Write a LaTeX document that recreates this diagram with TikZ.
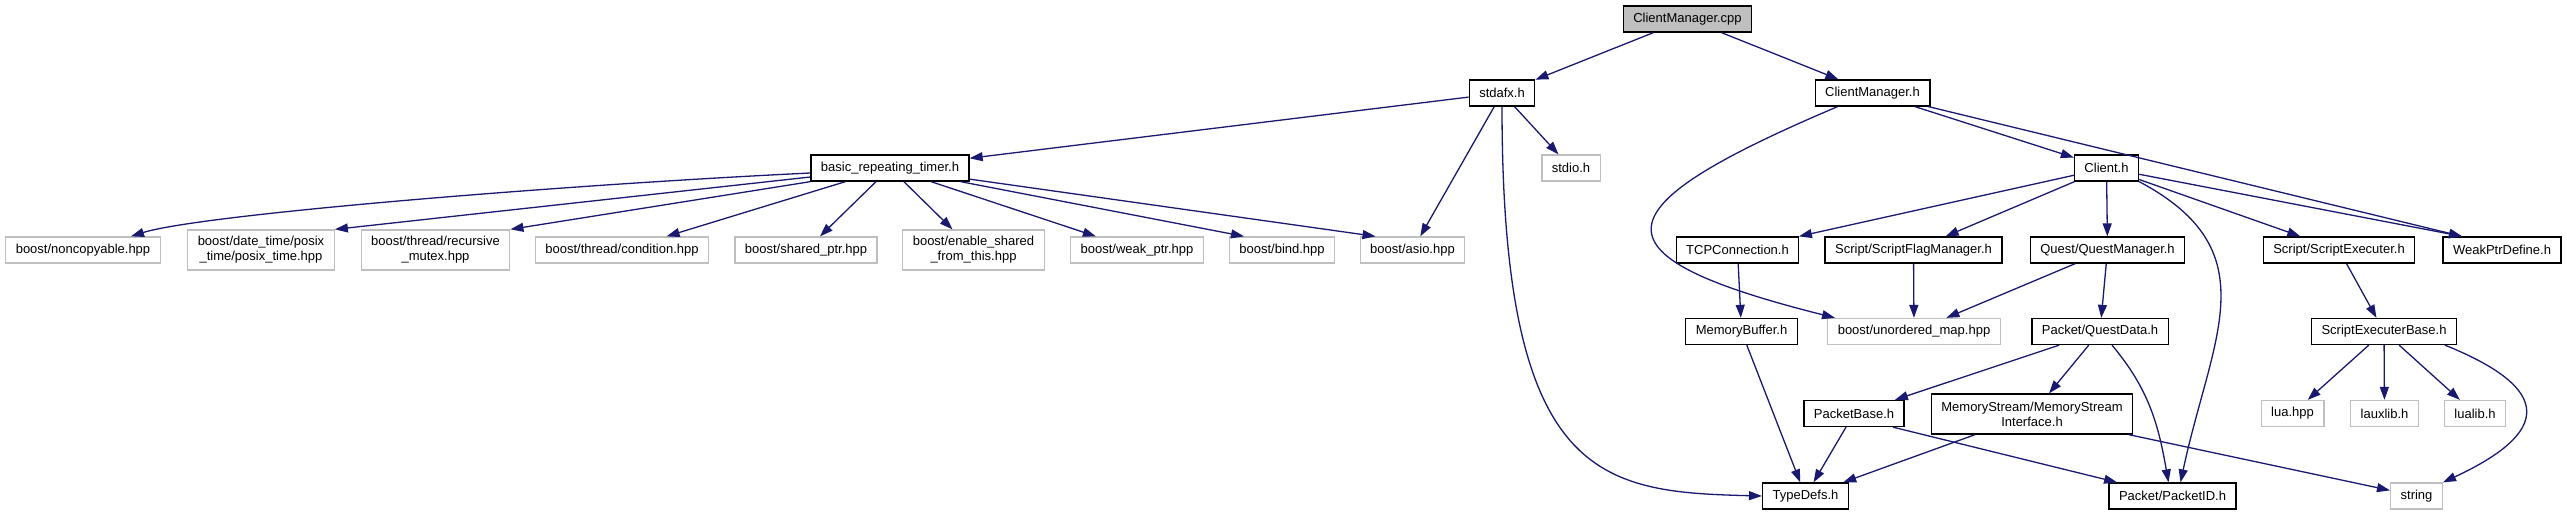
\documentclass[tikz,border=0pt]{standalone}
\usepackage{fontspec}
\setmainfont{Liberation Sans}
\usetikzlibrary{arrows.meta}
\definecolor{edgeblue}{HTML}{191970}
\definecolor{extgray}{HTML}{BFBFBF}
\tikzset{
  % header of the project: black frame
  filebox/.style={draw=black, fill=white, rectangle, line width=1.3pt, minimum height=26pt,
                  inner xsep=10pt, inner ysep=2pt, align=center, font=\fontsize{13}{15}\selectfont},
  filebox-two/.style={filebox, minimum height=40pt},
  % system / library header: light grey frame
  extbox/.style={filebox, draw=extgray},
  extbox-two/.style={extbox, minimum height=40pt},
  % the file the graph belongs to
  rootbox/.style={filebox, fill=extgray},
  % include arrows
  incl/.style={-{Triangle[length=13pt,width=9pt]}, draw=edgeblue, line width=1.3pt}
}

\begin{document}
\begin{tikzpicture}[x=1pt, y=-1pt]

\useasboundingbox (0,0) rectangle (2567,515);

% Rank 0 and 1
\node[rootbox] (cpp) at (1687.5,19) {ClientManager.cpp};
\node[filebox] (stdafx) at (1502,93) {stdafx.h};
\node[filebox] (cmh) at (1872.5,93) {ClientManager.h};

% Rank 2
\node[filebox] (brt) at (890,168) {basic\_repeating\_timer.h};
\node[extbox] (stdio) at (1571,168) {stdio.h};
\node[filebox] (client) at (2106.5,168) {Client.h};

% Rank 3: boost headers, then the project headers of Client.h
\node[extbox] (noncopy) at (83,250) {boost/noncopyable.hpp};
\node[extbox-two] (posix) at (261,250) {boost/date\_time/posix\\\_time/posix\_time.hpp};
\node[extbox-two] (rmutex) at (435.5,250) {boost/thread/recursive\\\_mutex.hpp};
\node[extbox] (cond) at (622,250) {boost/thread/condition.hpp};
\node[extbox] (sptr) at (806,250) {boost/shared\_ptr.hpp};
\node[extbox-two] (esft) at (973.5,250) {boost/enable\_shared\\\_from\_this.hpp};
\node[extbox] (wptr) at (1137,250) {boost/weak\_ptr.hpp};
\node[extbox] (bind) at (1282,250) {boost/bind.hpp};
\node[extbox] (asio) at (1412.5,250) {boost/asio.hpp};
\node[filebox] (tcp) at (1737.5,250) {TCPConnection.h};
\node[filebox] (flagmgr) at (1913.5,250) {Script/ScriptFlagManager.h};
\node[filebox] (questmgr) at (2107.5,250) {Quest/QuestManager.h};
\node[filebox] (exec) at (2339,250) {Script/ScriptExecuter.h};
\node[filebox] (weakdef) at (2502,250) {WeakPtrDefine.h};

% Rank 4
\node[filebox] (membuf) at (1741.5,331.5) {MemoryBuffer.h};
\node[extbox] (umap) at (1914,331.5) {boost/unordered\_map.hpp};
\node[filebox] (questdata) at (2100,331.5) {Packet/QuestData.h};
\node[filebox] (execbase) at (2384,331.5) {ScriptExecuterBase.h};

% Rank 5
\node[filebox] (pktbase) at (1854,413.5) {PacketBase.h};
\node[filebox-two] (msi) at (2032,414) {MemoryStream/MemoryStream\\Interface.h};
\node[extbox] (lua) at (2292.5,413.5) {lua.hpp};
\node[extbox] (lauxlib) at (2384.5,413.5) {lauxlib.h};
\node[extbox] (lualib) at (2475,413.5) {lualib.h};

% Rank 6
\node[filebox] (typedefs) at (1805.5,496) {TypeDefs.h};
\node[filebox] (pktid) at (2172.5,496) {Packet/PacketID.h};
\node[extbox] (string) at (2416.5,496) {string};

% Includes of ClientManager.cpp and stdafx.h
\draw[incl] (cpp) -- (stdafx);
\draw[incl] (cpp) -- (cmh);
\draw[incl] (stdafx) -- (brt);
\draw[incl] (stdafx) -- (stdio);
\draw[incl] (stdafx) -- (asio);
\draw[incl] (stdafx.south) .. controls +(0,374) and +(-162,-4) .. (typedefs.west);

% basic_repeating_timer.h
\draw[incl] ([yshift=-5pt]brt.west) .. controls +(-250,12) and +(70,-22) .. ([xshift=48pt]noncopy.north);
\draw[incl] ([yshift=-9pt]brt.west) -- (posix.north east);
\draw[incl] (brt.south west) -- (rmutex.north east);
\draw[incl] (brt) -- (cond);
\draw[incl] (brt) -- (sptr);
\draw[incl] (brt) -- (esft);
\draw[incl] (brt) -- (wptr);
\draw[incl] (brt) -- ([xshift=-38pt]bind.north);
\draw[incl] (brt) -- ([xshift=-37pt]asio.north);

% ClientManager.h and Client.h
\draw[incl] (cmh) -- (client);
\draw[incl] (cmh) -- ([xshift=-40pt]weakdef.north);
\draw[incl] ([xshift=-35pt]cmh.south) .. controls +(-238,101) and +(-251,-63) .. ([xshift=-79pt]umap.north);
\draw[incl] (client) -- (tcp);
\draw[incl] (client) -- (flagmgr);
\draw[incl] (client) -- (questmgr);
\draw[incl] (client.south east) to[out=-28, in=78, looseness=1.25] ([xshift=8pt]pktid.north);
\draw[incl] (client) -- (exec);
\draw[incl] (client) -- ([xshift=-40pt]weakdef.north);

% lower ranks
\draw[incl] (tcp) -- (membuf);
\draw[incl] (flagmgr) -- (umap);
\draw[incl] (questmgr) -- (umap);
\draw[incl] (questmgr) -- (questdata);
\draw[incl] (membuf) -- (typedefs);
\draw[incl] (questdata) -- (pktbase);
\draw[incl] (questdata) -- (msi);
\draw[incl] ([xshift=12pt]questdata.south) to[out=-50, in=100] ([xshift=-4pt]pktid.north);
\draw[incl] (pktbase) -- (typedefs);
\draw[incl] ([xshift=39pt]pktbase.south) -- (pktid);
\draw[incl] (msi) -- (typedefs);
\draw[incl] (msi) -- (string);
\draw[incl] (exec) -- (execbase);
\draw[incl] (execbase) -- (lua);
\draw[incl] (execbase) -- (lauxlib);
\draw[incl] (execbase) -- (lualib);
\draw[incl] ([xshift=61pt]execbase.south) to[out=-22, in=25, looseness=2.2] (string.north east);

\end{tikzpicture}
\end{document}
